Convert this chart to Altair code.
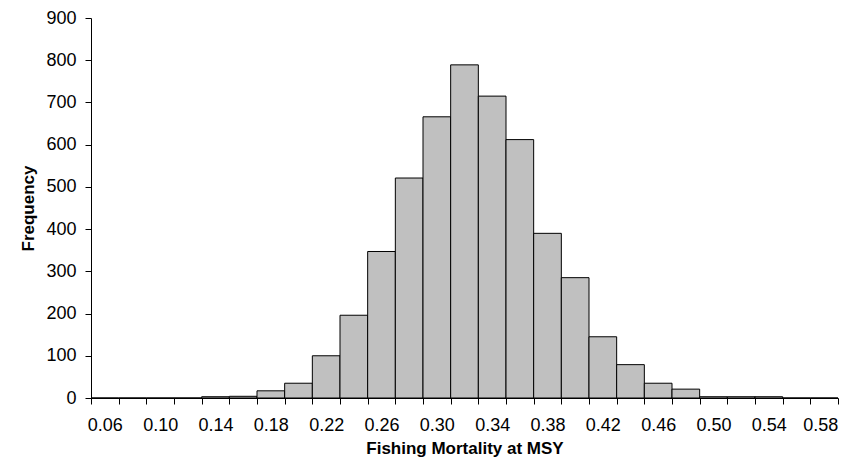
import altair as alt
import pandas as pd

# Category centres (bins of width 0.02) and frequencies
centers = [0.06, 0.08, 0.10, 0.12, 0.14, 0.16, 0.18, 0.20, 0.22, 0.24, 0.26, 0.28, 0.30,
           0.32, 0.34, 0.36, 0.38, 0.40, 0.42, 0.44, 0.46, 0.48, 0.50, 0.52, 0.54, 0.56, 0.58]
freq = [0, 0, 0, 0, 3, 4, 17, 35, 100, 196, 347, 521, 666,
        789, 715, 612, 390, 285, 145, 79, 35, 21, 3, 3, 3, 0, 0]

tick_edges = [round(0.05 + 0.02 * k, 2) for k in range(28)]
label_values = [round(0.06 + 0.04 * k, 2) for k in range(14)]
y_ticks = [0, 100, 200, 300, 400, 500, 600, 700, 800, 900]

df = pd.DataFrame({"center": centers, "freq": freq})

FONT = "Liberation Sans"

xscale = alt.Scale(domain=[0.05, 0.59], nice=False, zero=False)
yscale = alt.Scale(domain=[0, 900], nice=False)

bars = alt.Chart(df).transform_calculate(
    lo="datum.center - 0.01", hi="datum.center + 0.01", base="0"
).mark_bar(fill="#C0C0C0", stroke="black", strokeWidth=1).encode(
    x=alt.X("lo:Q", scale=xscale,
            axis=alt.Axis(values=tick_edges, labels=False, tickSize=6, ticks=True,
                          orient="bottom", domain=True, domainColor="black",
                          tickColor="black", grid=False, title=None)),
    x2="hi:Q",
    y=alt.Y("freq:Q", scale=yscale,
            axis=alt.Axis(values=y_ticks, tickSize=6, domainColor="black", tickColor="black",
                          grid=False, labelFont=FONT, labelFontSize=18, labelColor="black",
                          labelPadding=9, title="Frequency", titleFont=FONT,
                          titleFontSize=17, titleFontWeight="bold", titleColor="black",
                          titlePadding=8)),
    y2="base:Q",
)

labels = alt.Chart(df).mark_point(opacity=0).encode(
    x=alt.X("center:Q", scale=xscale,
            axis=alt.Axis(values=label_values, format=".2f", ticks=False, tickSize=0,
                          orient="bottom", domain=False, grid=False, labelFont=FONT,
                          labelFontSize=18, labelColor="black", labelPadding=18,
                          labelOffset={"condition": {"test": "datum.value > 0.57", "value": -4},
                                       "value": 0},
                          title="Fishing Mortality at MSY", titleFont=FONT,
                          titleFontSize=17, titleFontWeight="bold", titleColor="black",
                          titlePadding=6)),
    y=alt.value(0),
)

chart = alt.layer(bars, labels).resolve_axis(x="independent").properties(
    width=747, height=380,
    autosize=alt.AutoSizeParams(type="none"),
    padding={"left": 83, "top": 10, "right": 1, "bottom": 62},
).configure_view(stroke=None)

chart.save("out.html", embed_options={"renderer": "svg", "actions": False})
